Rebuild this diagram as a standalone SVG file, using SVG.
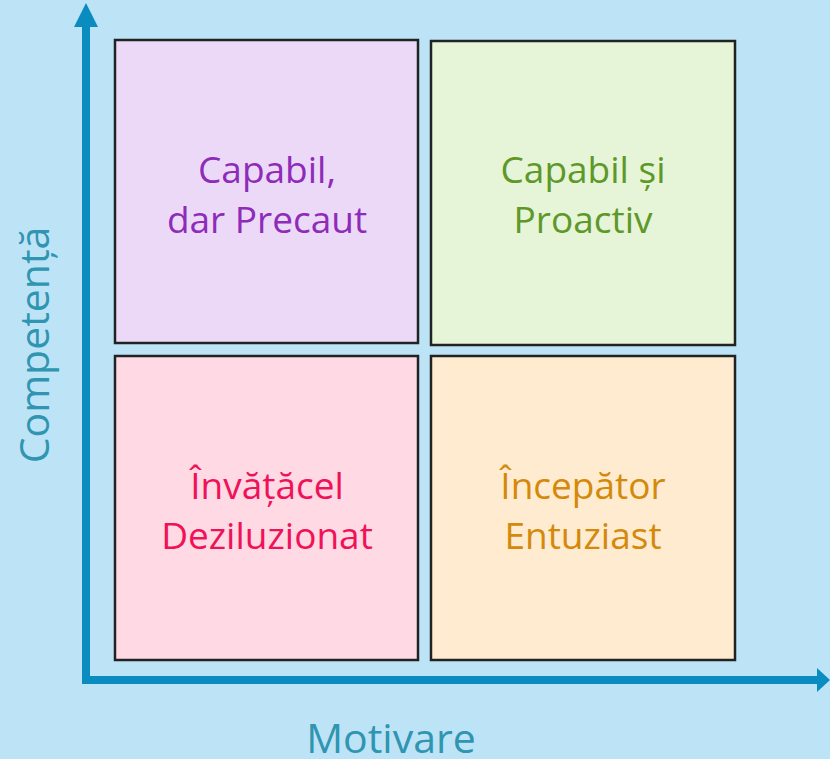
<svg xmlns="http://www.w3.org/2000/svg" width="830" height="759" viewBox="0 0 830 759">
<style>
.box{stroke:#222;stroke-width:2.5}
.t{font-family:"Open Sans","Liberation Sans",sans-serif;font-size:37px;text-anchor:middle}
.ax{font-family:"Open Sans","Liberation Sans",sans-serif;font-size:41px;fill:#2F95B0;text-anchor:middle}
</style>
<rect width="830" height="759" fill="#BDE3F7"/>
<g id="connectors" fill="#0A8CC0">
<rect x="82" y="22" width="8" height="662"/>
<polygon points="86,3 98,27 74,27"/>
<rect x="82" y="676" width="738" height="8"/>
<polygon points="830,680 817,668 817,692"/>
</g>
<g id="n1"><rect class="box" x="115" y="40" width="303" height="303" fill="#ECD9F8"/>
<text class="t" fill="#8E2BB8" x="267" y="183">Capabil,</text><text class="t" fill="#8E2BB8" x="267" y="233">dar Precaut</text></g>
<g id="n2"><rect class="box" x="431" y="41" width="304" height="304" fill="#E6F4D8"/>
<text class="t" fill="#5E9828" x="583" y="183">Capabil și</text><text class="t" fill="#5E9828" x="583" y="233">Proactiv</text></g>
<g id="n3"><rect class="box" x="115" y="356" width="303" height="304" fill="#FFD9E4"/>
<text class="t" fill="#F01258" x="267" y="499">Învățăcel</text><text class="t" fill="#F01258" x="267" y="549">Deziluzionat</text></g>
<g id="n4"><rect class="box" x="431" y="356" width="304" height="304" fill="#FFECD0"/>
<text class="t" fill="#D4890A" x="583" y="499">Începător</text><text class="t" fill="#D4890A" x="583" y="549">Entuziast</text></g>
<g id="labels">
<text class="ax" x="391" y="753">Motivare</text>
<text class="ax" transform="translate(49,345) rotate(-90)">Competență</text>
</g>
</svg>
